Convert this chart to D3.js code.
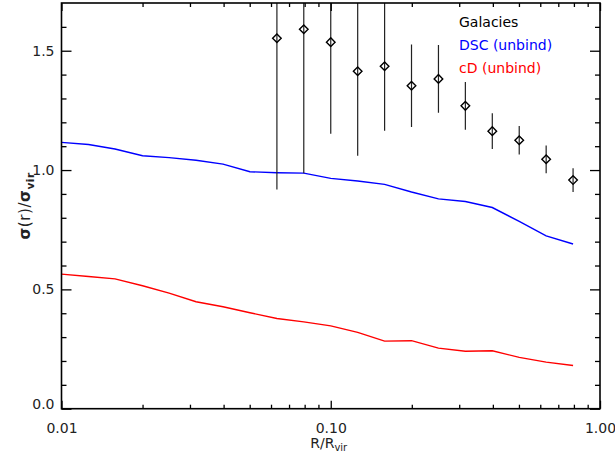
<!DOCTYPE html>
<html><head><meta charset="utf-8">
<script src="https://cdn.jsdelivr.net/npm/d3@7"></script>
<style>
body{margin:0;background:#fff;}
text{font-family:"DejaVu Sans",sans-serif;}
</style></head>
<body><svg id="c" width="615" height="457"></svg>
<script>
// Data
const radius = [0.0100,0.0126,0.0158,0.0200,0.0251,0.0316,0.0398,0.0501,0.0631,0.0794,0.1000,0.1259,0.1585,0.1995,0.2512,0.3162,0.3981,0.5012,0.6310,0.7943];
const dscUnbind = [1.116,1.107,1.088,1.060,1.052,1.041,1.025,0.993,0.989,0.987,0.965,0.954,0.940,0.908,0.879,0.868,0.843,0.785,0.724,0.690];
const cdUnbind = [0.564,0.554,0.544,0.515,0.484,0.448,0.427,0.402,0.378,0.364,0.347,0.320,0.283,0.285,0.254,0.241,0.243,0.215,0.195,0.181];
const galR = [0.0631,0.0794,0.1000,0.1259,0.1585,0.1995,0.2512,0.3162,0.3981,0.5012,0.6310,0.7943];
const galSigma = [1.552,1.590,1.536,1.414,1.435,1.353,1.382,1.269,1.163,1.125,1.045,0.958];
const galErr = [0.633,0.603,0.384,0.354,0.270,0.173,0.142,0.100,0.075,0.060,0.058,0.050];
const xMajor = [0.01,0.1,1.0];
const xMajorLabels = ["0.01","0.10","1.00"];
const yMajor = [0.0,0.5,1.0,1.5];
const yMajorLabels = ["0.0","0.5","1.0","1.5"];
const yMinor = [0.1,0.2,0.3,0.4,0.6,0.7,0.8,0.9,1.1,1.2,1.3,1.4,1.6];
const xMinor = [0.02,0.03,0.04,0.05,0.06,0.07,0.08,0.09,0.2,0.3,0.4,0.5,0.6,0.7,0.8,0.9];
const legendLabels = ["Galacies","DSC (unbind)","cD (unbind)"];
const legendColors = ["#000000","#0000ff","#ff0000"];

const L=61.5,R=600,T=3,B=408.7;
const svg=d3.select("#c");
const x=d3.scaleLog().domain([0.01,1]).range([L,R]);
const y=d3.scaleLinear().domain([0,1.7]).range([B,T]);

svg.append("defs").append("clipPath").attr("id","clip")
  .append("rect").attr("x",L).attr("y",T).attr("width",R-L).attr("height",B-T);

const plot=svg.append("g").attr("clip-path","url(#clip)");
const line=d3.line().x((d,i)=>x(radius[i])).y(d=>y(d));
plot.append("path").datum(dscUnbind).attr("d",line).attr("fill","none").attr("stroke","#0000ff").attr("stroke-width",1.4);
plot.append("path").datum(cdUnbind).attr("d",line).attr("fill","none").attr("stroke","#ff0000").attr("stroke-width",1.4);

// error bars
plot.selectAll("line.err").data(galR).enter().append("line")
  .attr("x1",d=>x(d)).attr("x2",d=>x(d))
  .attr("y1",(d,i)=>y(galSigma[i]-galErr[i]))
  .attr("y2",(d,i)=>y(galSigma[i]+galErr[i]))
  .attr("stroke","#222").attr("stroke-width",1.2);
// diamonds
const s=4.3;
plot.selectAll("path.dia").data(galR).enter().append("path")
  .attr("d",(d,i)=>{const cx=x(d),cy=y(galSigma[i]);return `M${cx},${cy-s}L${cx+s},${cy}L${cx},${cy+s}L${cx-s},${cy}Z`;})
  .attr("fill","none").attr("stroke","#000").attr("stroke-width",1.4);

// axes
function styleAxis(g){g.select(".domain").remove();g.selectAll("line").attr("stroke","#000").attr("stroke-width",1.3);}
svg.append("g").attr("transform",`translate(0,${B})`)
  .call(d3.axisBottom(x).tickValues(xMajor).tickSize(-8).tickFormat((d,i)=>xMajorLabels[i]).tickPadding(14))
  .call(styleAxis).call(g=>g.selectAll("text").attr("font-size",14).attr("fill","#222").attr("font-family","DejaVu Sans"));
svg.append("g").attr("transform",`translate(0,${B})`)
  .call(d3.axisBottom(x).tickValues(xMinor).tickSize(-4).tickFormat(""))
  .call(styleAxis);
svg.append("g").attr("transform",`translate(0,${T})`)
  .call(d3.axisTop(x).tickValues(xMajor).tickSize(-8).tickFormat(""))
  .call(styleAxis);
svg.append("g").attr("transform",`translate(0,${T})`)
  .call(d3.axisTop(x).tickValues(xMinor).tickSize(-4).tickFormat(""))
  .call(styleAxis);
svg.append("g").attr("transform",`translate(${L},0)`)
  .call(d3.axisLeft(y).tickValues(yMajor).tickSize(-10).tickFormat((d,i)=>yMajorLabels[i]).tickPadding(7))
  .call(styleAxis).call(g=>g.selectAll("text").attr("font-size",14).attr("fill","#222").attr("font-family","DejaVu Sans")
     .attr("dy",(d)=>d===0?"-0.05em":"0.32em"));
svg.append("g").attr("transform",`translate(${L},0)`)
  .call(d3.axisLeft(y).tickValues(yMinor).tickSize(-5).tickFormat(""))
  .call(styleAxis);
svg.append("g").attr("transform",`translate(${R},0)`)
  .call(d3.axisRight(y).tickValues(yMajor).tickSize(-10).tickFormat(""))
  .call(styleAxis);
svg.append("g").attr("transform",`translate(${R},0)`)
  .call(d3.axisRight(y).tickValues(yMinor).tickSize(-5).tickFormat(""))
  .call(styleAxis);
// frame
svg.append("rect").attr("x",L).attr("y",T).attr("width",R-L).attr("height",B-T)
  .attr("fill","none").attr("stroke","#000").attr("stroke-width",1.6);

// axis titles
const xt=svg.append("text").attr("x",(L+R)/2-2).attr("y",448).attr("text-anchor","middle").attr("font-size",14).attr("fill","#222");
xt.append("tspan").text("R/R");
xt.append("tspan").text("vir").attr("font-size",10).attr("dy",3);
const yt=svg.append("text").attr("transform",`translate(30,${(T+B)/2}) rotate(-90)`).attr("text-anchor","middle").attr("font-size",15).attr("fill","#222").attr("letter-spacing",0.6);
yt.append("tspan").text("σ").attr("font-weight","bold");
yt.append("tspan").text("(r)/");
yt.append("tspan").text("σ").attr("font-weight","bold");
yt.append("tspan").text("vir").attr("font-size",10.5).attr("dy",4).attr("font-weight","bold");

// legend
svg.selectAll("text.leg").data(legendLabels).enter().append("text")
  .attr("x",459).attr("y",(d,i)=>27+i*23).attr("font-size",14)
  .attr("fill",(d,i)=>legendColors[i]).text(d=>d);
</script></body></html>
